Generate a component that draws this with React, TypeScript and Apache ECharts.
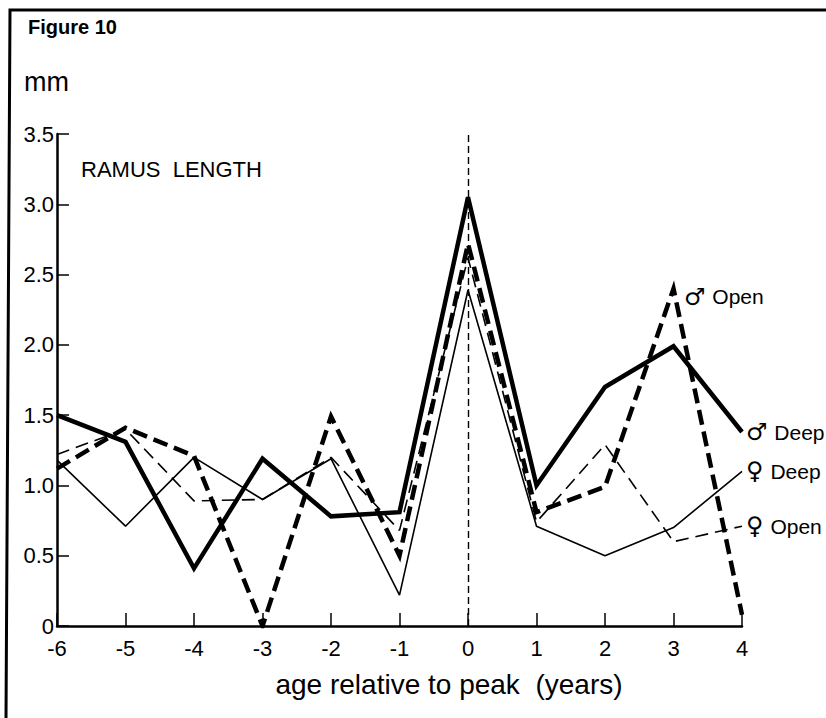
import React, { useEffect, useRef } from "react";
import * as echarts from "echarts";

// Years relative to the growth peak
const years = [-6, -5, -4, -3, -2, -1, 0, 1, 2, 3, 4];

// Ramus length increments (mm) for each group
const maleDeep = [1.5, 1.31, 0.41, 1.19, 0.78, 0.81, 3.05, 1.0, 1.7, 1.99, 1.38];
const maleOpen = [1.12, 1.41, 1.21, 0, 1.49, 0.5, 2.72, 0.81, 0.99, 2.4, 0.08];
const femaleDeep = [1.18, 0.71, 1.2, 0.9, 1.19, 0.22, 2.39, 0.71, 0.5, 0.7, 1.1];
const femaleOpen = [1.22, 1.4, 0.89, 0.9, 1.2, 0.68, 2.62, 0.74, 1.29, 0.6, 0.71];

// The male open-bite curve is labelled at its late peak
const maleOpenLabelYear = 3;

const yTicks = [0, 0.5, 1.0, 1.5, 2.0, 2.5, 3.0, 3.5];

const FONT = "'Liberation Sans', Arial, sans-serif";
const SYM_FONT = "'DejaVu Sans', sans-serif";

const pairs = (vals: number[]) => vals.map((v, i) => [years[i], v]);

const groupLabel = (sym: string, word: string) => `{s|${sym}}{t|${word}}`;
const labelRich = {
  s: { fontFamily: SYM_FONT, fontSize: 24, color: "#000" },
  t: { fontFamily: FONT, fontSize: 21, color: "#000", padding: [0, 0, 0, 1] },
};

export default function App() {
  const ref = useRef<HTMLDivElement>(null);

  useEffect(() => {
    if (!ref.current) return;
    const chart = echarts.init(ref.current, undefined, { renderer: "svg" });

    const thin = 1.6;
    const thick = 4.5;
    const mi = years.indexOf(maleOpenLabelYear);

    chart.setOption({
      animation: false,
      backgroundColor: "#fff",
      grid: { left: 57, right: 84, top: 134, bottom: 92, containLabel: false },
      xAxis: {
        type: "value",
        min: years[0],
        max: years[years.length - 1],
        interval: 1,
        axisLine: { show: true, onZero: false, lineStyle: { color: "#000", width: 2.5 } },
        axisTick: { show: true, inside: true, length: 13, lineStyle: { color: "#000", width: 1.5 } },
        axisLabel: {
          color: "#000",
          fontFamily: FONT,
          fontSize: 22,
          margin: 11,
          formatter: (v: number) => String(v),
        },
        splitLine: { show: false },
      },
      yAxis: {
        type: "value",
        min: yTicks[0],
        max: yTicks[yTicks.length - 1],
        interval: 0.5,
        axisLine: { show: true, onZero: false, lineStyle: { color: "#000", width: 2.5 } },
        axisTick: { show: true, inside: true, length: 12, lineStyle: { color: "#000", width: 1.5 } },
        axisLabel: {
          color: "#000",
          fontFamily: FONT,
          fontSize: 22,
          margin: 3,
          formatter: (v: number) => (v === 0 ? "0" : v.toFixed(1)),
        },
        splitLine: { show: false },
      },
      series: [
        {
          name: "♀ Deep",
          type: "line",
          data: pairs(femaleDeep),
          symbol: "none",
          lineStyle: { color: "#000", width: thin },
          endLabel: {
            show: true,
            formatter: () => groupLabel("♀", " Deep"),
            rich: labelRich,
            distance: 4,
          },
          z: 2,
        },
        {
          name: "♀ Open",
          type: "line",
          data: pairs(femaleOpen),
          symbol: "none",
          lineStyle: { color: "#000", width: thin, type: [13, 7] },
          endLabel: {
            show: true,
            formatter: () => groupLabel("♀", " Open"),
            rich: labelRich,
            distance: 4,
          },
          z: 2,
        },
        {
          name: "♂ Deep",
          type: "line",
          data: pairs(maleDeep),
          symbol: "none",
          lineStyle: { color: "#000", width: thick, join: "miter" },
          endLabel: {
            show: true,
            formatter: () => groupLabel("♂", " Deep"),
            rich: labelRich,
            distance: 4,
          },
          z: 3,
        },
        {
          name: "♂ Open",
          type: "line",
          data: pairs(maleOpen),
          symbol: "none",
          lineStyle: { color: "#000", width: thick, type: [15, 7], join: "miter" },
          z: 3,
          markPoint: {
            silent: true,
            symbol: "circle",
            symbolSize: 1,
            itemStyle: { color: "rgba(0,0,0,0)" },
            label: {
              show: true,
              position: "right",
              distance: 10,
              offset: [0, 8],
              formatter: () => groupLabel("♂", " Open"),
              rich: labelRich,
            },
            data: [{ coord: [years[mi], maleOpen[mi]] }],
          },
          markLine: {
            silent: true,
            symbol: "none",
            label: { show: false },
            lineStyle: { color: "#000", width: 1.4, type: [7, 4] },
            data: [
              [
                { coord: [0, yTicks[0]] },
                { coord: [0, yTicks[yTicks.length - 1]] },
              ],
            ],
          },
        },
      ],
      graphic: [
        {
          type: "polyline",
          shape: { points: [[6, 718], [10, 10], [826, 10]] },
          style: { stroke: "#000", lineWidth: 3, fill: null },
        },
        {
          type: "text",
          left: 28,
          top: 17,
          style: { text: "Figure 10", font: `bold 20px ${FONT}`, fill: "#000" },
        },
        {
          type: "text",
          left: 24,
          top: 68,
          style: { text: "mm", font: `27px ${FONT}`, fill: "#000" },
        },
        {
          type: "text",
          left: 81,
          top: 158,
          style: { text: "RAMUS  LENGTH", font: `22px ${FONT}`, fill: "#000" },
        },
        {
          type: "text",
          x: 449,
          y: 684,
          style: {
            text: "age relative to peak  (years)",
            font: `28px ${FONT}`,
            fill: "#000",
            align: "center",
            verticalAlign: "middle",
          },
        },
      ],
    });

    return () => chart.dispose();
  }, []);

  return (
    <div
      ref={ref}
      style={{ position: "fixed", left: 0, top: 0, width: 826, height: 718, background: "#fff" }}
    />
  );
}
